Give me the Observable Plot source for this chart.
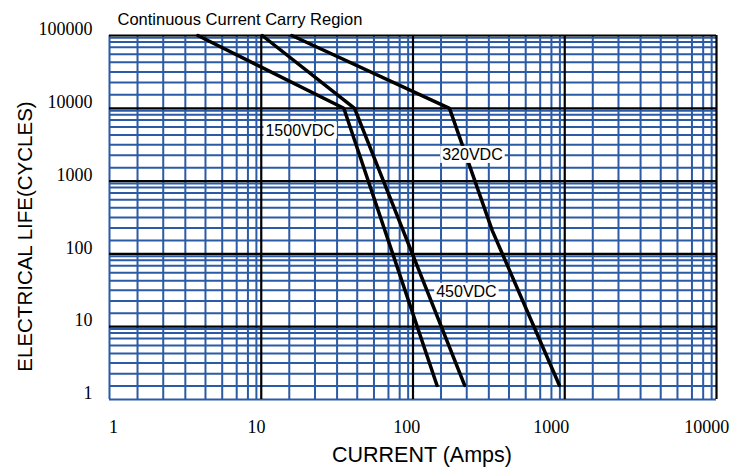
<!DOCTYPE html>
<html>
<head>
<meta charset="utf-8">
<script src="https://cdn.jsdelivr.net/npm/d3@7"></script>
<script src="https://cdn.jsdelivr.net/npm/@observablehq/plot@0.6"></script>
<style>
  html, body { margin: 0; padding: 0; background: white; }
  svg { display: block; }
</style>
</head>
<body>
<script>
// ---- data ----
const current1500 = [3.82, 35.0, 144];
const cycles1500  = [100000, 10000, 1.56];
const current450  = [10.15, 41.2, 219];
const cycles450   = [100000, 10000, 1.56];
const current320  = [15.9, 174, 333, 923];
const cycles320   = [100000, 10000, 209, 1.56];

const labelText = ["1500VDC", "320VDC", "450VDC"];
const labelX    = [10.66, 155.8, 142.2];
const labelY    = [4955, 2298, 30.4];

const xTickLabels = ["1", "10", "100", "1000", "10000"];
const xTickAt     = [1.062, 9.30, 91.0, 814, 8630];
const yTickValues = [1, 10, 100, 1000, 10000, 100000];

const xDecades = [1, 10, 100, 1000];
const yDecades = [1, 10, 100, 1000, 10000];
const minorSteps = [1.53, 2.26, 3.16, 4.29, 5.53, 6.89, 8.17, 9.29];
const majorX = [10, 100, 1000, 10000];
const majorY = [10, 100, 1000, 10000, 100000];

const titleText = "Continuous Current Carry Region";
const xTitle = "CURRENT (Amps)";
const yTitle = "ELECTRICAL LIFE(CYCLES)";

// ---- build tables ----
const rows = [];
const addSeries = (name, xs, ys) => xs.forEach((x, i) => rows.push({series: name, current: x, cycles: ys[i]}));
addSeries("1500VDC", current1500, cycles1500);
addSeries("450VDC", current450, cycles450);
addSeries("320VDC", current320, cycles320);

const labelRows = labelText.map((t, i) => ({text: t, x: labelX[i], y: labelY[i]}));
const xTickRows = xTickLabels.map((t, i) => ({label: t, at: xTickAt[i]}));
const xMinor = [1, ...xDecades.flatMap(d => minorSteps.map(s => d * s))];
const yMinor = [1, ...yDecades.flatMap(d => minorSteps.map(s => d * s))];

const sans = "'Liberation Sans', Arial, sans-serif";
const serif = "'Liberation Serif', 'Times New Roman', serif";
const blue = "#2b5aa6";

const plot = Plot.plot({
  width: 742,
  height: 469,
  marginTop: 35,
  marginBottom: 70,
  marginLeft: 109,
  marginRight: 26,
  x: {type: "log", domain: [1, 10000], axis: null},
  y: {type: "log", domain: [1, 100000], axis: null},
  style: {background: "white", fontFamily: sans, color: "black"},
  marks: [
    Plot.ruleX(xMinor, {stroke: blue, strokeWidth: 2}),
    Plot.ruleY(yMinor, {stroke: blue, strokeWidth: 2}),
    Plot.ruleX(majorX, {stroke: "black", strokeWidth: 2.2}),
    Plot.ruleY(majorY, {stroke: "black", strokeWidth: 2.2}),
    Plot.line(rows, {x: "current", y: "cycles", z: "series", stroke: "black", strokeWidth: 3.5, strokeLinejoin: "miter"}),
    Plot.text(labelRows, {x: "x", y: "y", text: "text", textAnchor: "start", lineAnchor: "middle", fontSize: 16, fill: "black", fontFamily: sans}),
    Plot.text(yTickValues, {y: d => d, text: d => String(d), frameAnchor: "left", dx: -17, dy: -6, textAnchor: "end", lineAnchor: "middle", fontSize: 18, fontFamily: serif, fill: "black"}),
    Plot.text(xTickRows, {x: "at", text: "label", frameAnchor: "bottom", dy: 28, lineAnchor: "middle", textAnchor: "middle", fontSize: 18, fontFamily: serif, fill: "black"}),
    Plot.text([titleText], {text: d => d, frameAnchor: "top-left", dx: 8, dy: -16, textAnchor: "start", lineAnchor: "middle", fontSize: 16.5, fontFamily: sans, fill: "black"}),
    Plot.text([xTitle], {text: d => d, frameAnchor: "bottom", dx: 9, dy: 56, textAnchor: "middle", lineAnchor: "middle", fontSize: 21.5, fontFamily: sans, fill: "black"}),
    Plot.text([yTitle], {text: d => d, frameAnchor: "left", dx: -84, dy: 19, rotate: -90, textAnchor: "middle", lineAnchor: "middle", fontSize: 20.5, fontFamily: sans, fill: "black"})
  ]
});

document.body.append(plot);

// white boxes behind the in-chart series labels
const svgns = "http://www.w3.org/2000/svg";
const labelSet = new Set(labelText);
plot.querySelectorAll("text").forEach(t => {
  if (!labelSet.has(t.textContent)) return;
  const b = t.getBBox();
  const r = document.createElementNS(svgns, "rect");
  r.setAttribute("x", b.x - 2);
  r.setAttribute("y", b.y);
  r.setAttribute("width", b.width + 4);
  r.setAttribute("height", b.height);
  r.setAttribute("fill", "white");
  const tr = t.getAttribute("transform");
  if (tr) r.setAttribute("transform", tr);
  t.parentNode.insertBefore(r, t);
});
</script>
</body>
</html>
